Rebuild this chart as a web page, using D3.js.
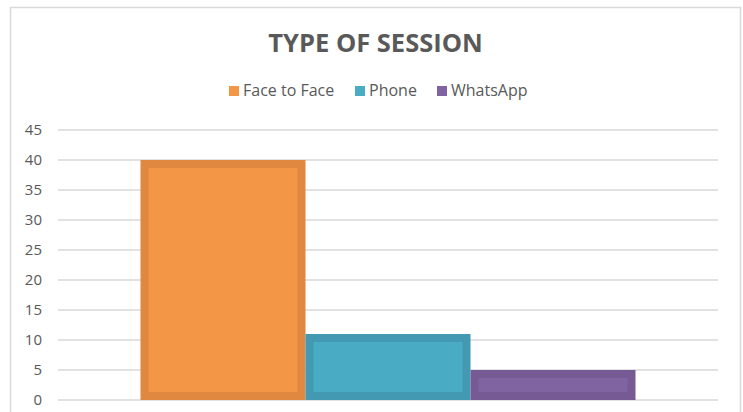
<!DOCTYPE html>
<html>
<head>
<meta charset="utf-8">
<script src="https://cdn.jsdelivr.net/npm/d3@7"></script>
<style>
  html, body { margin: 0; padding: 0; background: #fff; }
  svg { display: block; }
</style>
</head>
<body>
<div id="chart"></div>
<script>
// Data
const categories = ['Type of Session'];
const series     = ['Face to Face', 'Phone', 'WhatsApp'];
const values     = [40, 11, 5];
const yTicks     = [0, 5, 10, 15, 20, 25, 30, 35, 40, 45];

const fills   = ['#F39646', '#4AABC5', '#8064A2'];
const strokes = ['#E0883F', '#4399B2', '#765A94'];

const width  = 743;
const height = 412;
const font   = '"Open Sans", "Liberation Sans", sans-serif';
const textCol = '#595959';

const svg = d3.select('#chart')
  .append('svg')
    .attr('width', width)
    .attr('height', height);

// chart frame (bottom cropped off)
svg.append('rect')
  .attr('x', 10.5).attr('y', 7.5)
  .attr('width', 730).attr('height', 420)
  .attr('fill', '#fff')
  .attr('stroke', '#D9D9D9')
  .attr('stroke-width', 1.5);

// Scales
const x0 = d3.scaleBand()
  .domain(categories)
  .range([58, 718])
  .paddingInner(0)
  .paddingOuter(1 / 6);

const x1 = d3.scaleBand()
  .domain(series)
  .range([0, x0.bandwidth()])
  .padding(0);

const y = d3.scaleLinear()
  .domain([0, 45])
  .range([400, 130]);

// Gridlines
svg.append('g')
  .selectAll('line')
  .data(yTicks)
  .join('line')
    .attr('x1', 58).attr('x2', 718)
    .attr('y1', d => y(d)).attr('y2', d => y(d))
    .attr('stroke', '#D9D9D9')
    .attr('stroke-width', 1.5);

// Y axis labels
const yAxis = svg.append('g')
  .attr('transform', 'translate(42,0)')
  .call(d3.axisLeft(y).tickValues(yTicks).tickSize(0).tickPadding(0));
yAxis.select('.domain').remove();
yAxis.selectAll('text')
  .attr('fill', textCol)
  .style('font-family', font)
  .style('font-size', '15px');

// Bars
const sw = 8;
const bars = svg.append('g')
  .selectAll('g')
  .data(categories)
  .join('g')
    .attr('transform', d => `translate(${x0(d)},0)`);

bars.selectAll('rect')
  .data(series.map((s, i) => ({ s, v: values[i], i })))
  .join('rect')
    .attr('x', d => x1(d.s) + sw / 2)
    .attr('y', d => y(d.v) + sw / 2)
    .attr('width', x1.bandwidth() - sw)
    .attr('height', d => y(0) - y(d.v) - sw)
    .attr('fill', d => fills[d.i])
    .attr('stroke', d => strokes[d.i])
    .attr('stroke-width', sw);

// Title
svg.append('text')
  .attr('x', 375.5)
  .attr('y', 52)
  .attr('text-anchor', 'middle')
  .attr('fill', textCol)
  .style('font-family', font)
  .style('font-weight', 'bold')
  .style('font-size', '25.5px')
  .text('TYPE OF SESSION');

// Legend
const legendX = [229, 355, 437];
const legend = svg.append('g')
  .selectAll('g')
  .data(series)
  .join('g')
    .attr('transform', (d, i) => `translate(${legendX[i]},86)`);

legend.append('rect')
  .attr('width', 10).attr('height', 10)
  .attr('fill', (d, i) => fills[i]);

legend.append('text')
  .attr('x', 14)
  .attr('y', 10)
  .attr('fill', textCol)
  .style('font-family', font)
  .style('font-size', '16px')
  .text(d => d);
</script>
</body>
</html>
